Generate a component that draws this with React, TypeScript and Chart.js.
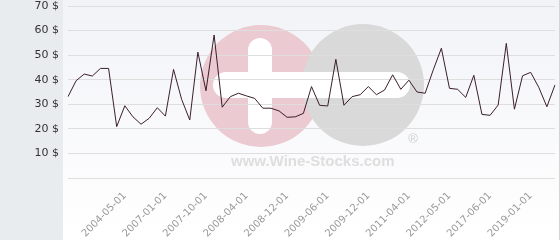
import React, { useEffect, useRef } from "react";
import { Chart, registerables } from "chart.js";

Chart.register(...registerables);

// Price per bottle ($) for each sale, in order
const prices: number[] = [
  33.1, 39.6, 42.3, 41.5, 44.6, 44.6, 20.9, 29.4, 24.9, 21.9,
  24.3, 28.6, 25.2, 44.2, 32.0, 23.6, 51.2, 35.5, 58.2, 28.8,
  33.1, 34.5, 33.4, 32.4, 28.4, 28.4, 27.3, 24.7, 24.9, 26.3,
  37.2, 29.6, 29.3, 48.3, 29.6, 33.1, 33.9, 37.2, 33.9, 35.8,
  42.0, 36.1, 39.8, 35.0, 34.5, 44.0, 52.8, 36.5, 36.1, 32.8,
  41.8, 25.9, 25.5, 29.7, 54.8, 28.0, 41.6, 43.0, 36.9, 29.0,
  37.9,
];

// Dates shown on the x axis (every 5th sale, starting at sale #8)
const tickDates: string[] = [
  "2004-05-01", "2007-01-01", "2007-10-01", "2008-04-01", "2008-12-01",
  "2009-06-01", "2009-12-01", "2011-04-01", "2012-05-01", "2017-06-01",
  "2019-01-01",
];
const firstTickIndex = 7;
const tickEvery = 5;

const yTicks: number[] = [0, 10, 20, 30, 40, 50, 60, 70];

const categories: string[] = prices.map((_, i) => {
  const k = (i - firstTickIndex) / tickEvery;
  return Number.isInteger(k) && k >= 0 && k < tickDates.length ? tickDates[k] : "";
});

const backgroundPlugin = {
  id: "bgWatermark",
  beforeDraw(chart: any) {
    const { ctx, width, height } = chart;
    ctx.save();
    const g = ctx.createLinearGradient(0, 0, 0, height);
    g.addColorStop(0, "#f2f3f7");
    g.addColorStop(1, "#ffffff");
    ctx.fillStyle = g;
    ctx.fillRect(0, 0, width, height);
    ctx.fillStyle = "#e8ecef";
    ctx.fillRect(0, 0, 63, height);
    ctx.fillStyle = "#d4d4d4";
    ctx.fillRect(width - 1, 0, 1, height);

    // watermark
    ctx.fillStyle = "#ebcad1";
    ctx.beginPath();
    ctx.arc(261, 86, 61, 0, Math.PI * 2);
    ctx.fill();
    ctx.fillStyle = "#d9d9d9";
    ctx.beginPath();
    ctx.arc(363, 85, 61, 0, Math.PI * 2);
    ctx.fill();
    ctx.fillStyle = "#ffffff";
    ctx.beginPath();
    (ctx as any).roundRect(213, 72, 197, 26, 13);
    ctx.fill();
    ctx.beginPath();
    (ctx as any).roundRect(248, 38, 24, 96, 12);
    ctx.fill();
    ctx.fillStyle = "#dedede";
    ctx.font = "bold 15px 'Liberation Sans', Arial, sans-serif";
    ctx.textBaseline = "alphabetic";
    ctx.textAlign = "left";
    ctx.fillText("www.Wine-Stocks.com", 231, 166);
    ctx.fillStyle = "#d0d0d0";
    ctx.font = "13px 'Liberation Sans', Arial, sans-serif";
    ctx.textAlign = "center";
    ctx.textBaseline = "middle";
    ctx.fillText("®", 413, 139);
    ctx.restore();
  },
};

export default function App() {
  const ref = useRef<HTMLCanvasElement | null>(null);

  useEffect(() => {
    document.body.style.margin = "0";
    const canvas = ref.current;
    if (!canvas) return;
    const chart = new Chart(canvas, {
      type: "line",
      data: {
        labels: categories,
        datasets: [
          {
            data: prices,
            borderColor: "#3b1e2b",
            borderWidth: 1,
            pointRadius: 0,
            tension: 0,
            fill: false,
          },
        ],
      },
      options: {
        animation: false,
        responsive: false,
        devicePixelRatio: 1,
        layout: { padding: { top: 6, right: 5, left: 0, bottom: 0 } },
        plugins: { legend: { display: false }, tooltip: { enabled: false } },
        scales: {
          x: {
            offset: false,
            grid: { display: false },
            border: { display: false },
            ticks: {
              autoSkip: false,
              maxRotation: 45,
              minRotation: 45,
              color: "#999999",
              font: { family: "'DejaVu Sans'", size: 10 },
              padding: 4,
            },
            afterFit(scale: any) {
              scale.height = 62;
              scale.paddingLeft = 0;
              scale.paddingRight = 0;
            },
          },
          y: {
            min: 0,
            max: 70,
            afterBuildTicks(scale: any) {
              scale.ticks = yTicks.map((v) => ({ value: v }));
            },
            grid: { color: "#dedede", drawTicks: false, lineWidth: 1 },
            border: { display: false },
            ticks: {
              color: "#333333",
              font: { family: "'DejaVu Sans'", size: 11 },
              padding: 9,
              callback: (v: any) => (v === 0 ? "" : `${v} $`),
            },
            afterFit(scale: any) {
              scale.width = 68;
              scale.paddingTop = 0;
              scale.paddingBottom = 0;
            },
          },
        },
      },
      plugins: [backgroundPlugin],
    });
    return () => chart.destroy();
  }, []);

  return (
    <div style={{ width: 560, height: 240 }}>
      <canvas ref={ref} width={560} height={240} />
    </div>
  );
}
